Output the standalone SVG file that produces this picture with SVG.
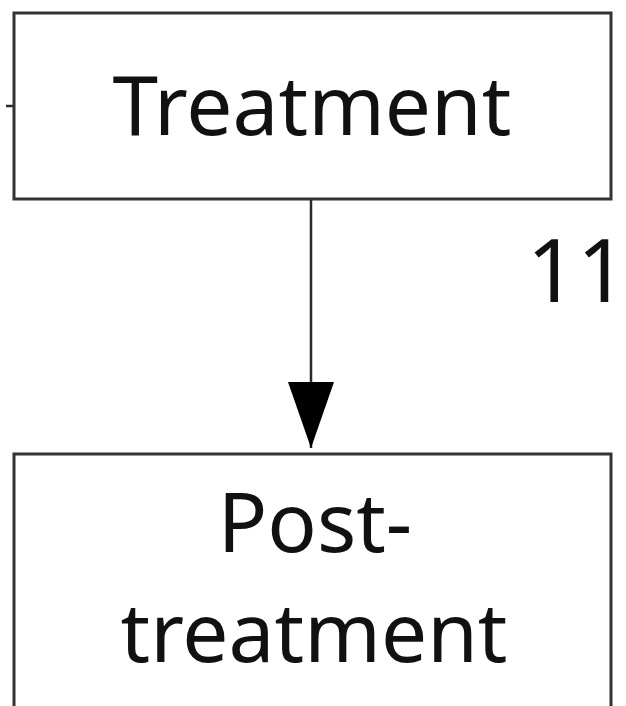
<svg xmlns="http://www.w3.org/2000/svg" width="626" height="706" viewBox="0 0 626 706">
  <style>
    .box { fill: #ffffff; stroke: #333333; stroke-width: 3; }
    .lbl { font-family: "Noto Sans", "DejaVu Sans", sans-serif; font-size: 82px; fill: #111111; text-anchor: middle; }
    .conn { stroke: #2a2a2a; stroke-width: 2.5; fill: none; }
  </style>
  <defs>
    <marker id="arrow" markerUnits="userSpaceOnUse" markerWidth="68" markerHeight="48" refX="66" refY="23" orient="auto">
      <path d="M0,0 L66,23 L0,46 Z" fill="#000000"/>
    </marker>
  </defs>
  <rect width="626" height="706" fill="#ffffff"/>
  <g id="connectors">
    <path class="conn" d="M311,199 V448" marker-end="url(#arrow)"/>
    <path class="conn" d="M6,106 H14"/>
  </g>
  <g id="treatment">
    <rect class="box" x="14" y="13" width="597" height="186"/>
    <text class="lbl" x="312" y="135">Treatment</text>
  </g>
  <g id="post-treatment">
    <rect class="box" x="14" y="454" width="597" height="270"/>
    <text class="lbl" x="315" y="552">Post-</text>
    <text class="lbl" x="314" y="662">treatment</text>
  </g>
  <g id="label-11">
    <text class="lbl" x="577" y="302" style="font-size:88px">11</text>
  </g>
</svg>
